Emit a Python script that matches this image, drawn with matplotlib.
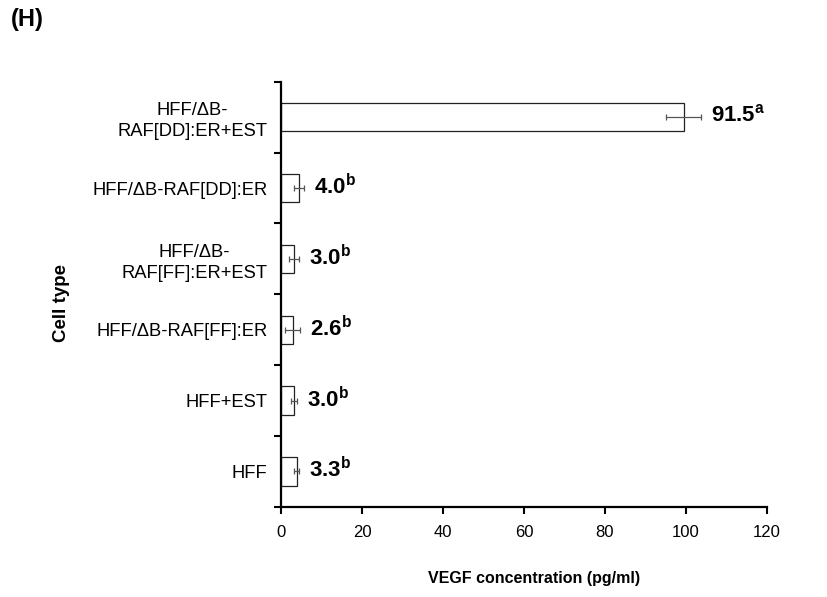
import numpy as np
import matplotlib
matplotlib.use('Agg')
import matplotlib.pyplot as plt

plt.rcParams['font.family'] = ['Liberation Sans', 'DejaVu Sans']
plt.rcParams['mathtext.fontset'] = 'custom'
plt.rcParams['mathtext.rm'] = 'Liberation Sans'
plt.rcParams['mathtext.bf'] = 'Liberation Sans:bold'

# bottom to top, as drawn
cell_types = ['HFF', 'HFF+EST', 'HFF/\u0394B-RAF[FF]:ER', 'HFF/\u0394B-\nRAF[FF]:ER+EST',
              'HFF/\u0394B-RAF[DD]:ER', 'HFF/\u0394B-\nRAF[DD]:ER+EST']
bar_values = [3.8, 3.2, 2.8, 3.2, 4.4, 99.5]
bar_errors = [0.7, 0.8, 1.9, 1.2, 1.2, 4.3]
value_labels = ['3.3', '3.0', '2.6', '3.0', '4.0', '91.5']
letters = ['b', 'b', 'b', 'b', 'b', 'a']
x_ticks = [0, 20, 40, 60, 80, 100, 120]

fig = plt.figure(figsize=(8.27, 5.97), dpi=100)
ax = fig.add_axes([0.340, 0.151, 0.587, 0.712])

pos = np.arange(len(cell_types)) + 0.5
ax.barh(pos, bar_values, height=0.4, color='white', edgecolor='#222222', linewidth=0.9)
ax.errorbar(bar_values, pos, xerr=bar_errors, fmt='none', ecolor='#555555',
            elinewidth=0.9, capsize=2.5, capthick=0.9)

for p, v, e, t, l in zip(pos, bar_values, bar_errors, value_labels, letters):
    ax.annotate(r'$\mathbf{%s}^{\mathbf{%s}}$' % (t, l), xy=(v + e, p),
                xytext=(7, 1), textcoords='offset points',
                ha='left', va='center', fontsize=16)

ax.set_xlim(0, 120)
ax.set_ylim(0, 6)
ax.set_xticks(x_ticks)
ax.set_xticklabels([str(x) for x in x_ticks], fontsize=12)
ax.set_yticks(range(7))
ax.set_yticklabels([''] * 7)
ax.set_yticks(pos, minor=True)
ax.set_yticklabels(cell_types, minor=True, fontsize=13.2)
for lbl in ax.get_yticklabels(minor=True):
    lbl.set_multialignment('center')
    lbl.set_linespacing(1.3)
ax.tick_params(axis='y', which='minor', length=0, pad=10)
ax.tick_params(axis='y', which='major', length=5, width=1.5, direction='out')
ax.tick_params(axis='x', length=5, width=1.5, direction='out', pad=8)

ax.spines['top'].set_visible(False)
ax.spines['right'].set_visible(False)
ax.spines['left'].set_linewidth(1.6)
ax.spines['bottom'].set_linewidth(1.6)

ax.set_xlabel('VEGF concentration (pg/ml)', fontsize=11.5, fontweight='bold')
ax.xaxis.set_label_coords(0.52, -0.152)
ax.set_ylabel('Cell type', fontsize=13.5, fontweight='bold')
ax.yaxis.set_label_coords(-0.434, 0.48)
fig.text(0.013, 0.968, '(H)', fontsize=17, fontweight='bold', ha='left', va='center')

plt.savefig('out.png', dpi=100)
